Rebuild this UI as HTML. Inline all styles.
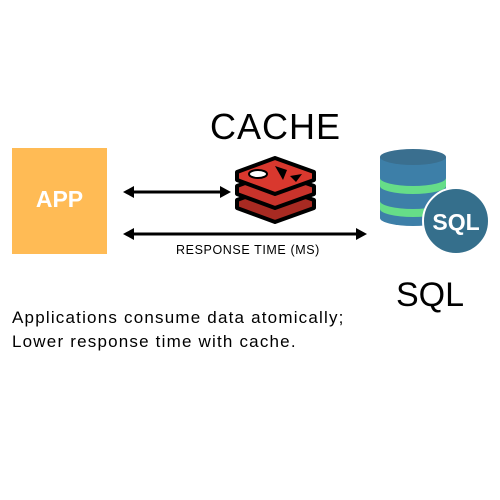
<!DOCTYPE html>
<html><head><style>
body{margin:0;width:500px;height:500px;background:#fff;position:relative;overflow:hidden;font-family:"Liberation Sans",sans-serif}
.t{position:absolute;color:#000;white-space:nowrap}
</style></head><body>
<div style="position:absolute;left:12px;top:148px;width:95px;height:106px;background:#ffbb55"></div>
<div class="t" style="left:12px;top:186px;width:95px;text-align:center;color:#fff;font-weight:bold;font-size:23px">APP</div>
<div class="t" style="left:210px;top:106px;font-size:36px;letter-spacing:1px">CACHE</div>
<div class="t" style="left:396px;top:276px;font-size:34px">SQL</div>
<div class="t" style="left:176px;top:243px;font-size:12.5px;letter-spacing:0.6px">RESPONSE TIME (MS)</div>
<div class="t" style="left:12px;top:306px;font-size:17px;line-height:24px;letter-spacing:1.2px">Applications consume data atomically;<br>Lower response time with cache.</div>
<svg width="500" height="500" style="position:absolute;left:0;top:0">
<g stroke="#000" stroke-width="3" fill="#000">
<line x1="130" y1="192" x2="224" y2="192"/>
<line x1="130" y1="234" x2="360" y2="234"/>
</g>
<g fill="#000">
<polygon points="123,192 134,186 134,198"/>
<polygon points="231,192 220,186 220,198"/>
<polygon points="123,234 134,228 134,240"/>
<polygon points="367,234 356,228 356,240"/>
</g>
<g stroke="#000" stroke-width="4" stroke-linejoin="round">
<polygon points="237,200 275,186 314,200 314,208 275,222 237,208" fill="#a82a22"/>
<polygon points="237,186 275,172 314,186 314,194 275,208 237,194" fill="#c9332b"/>
<polygon points="237,172 275,158 314,172 314,180 275,194 237,180" fill="#d9382e"/>
</g>
<ellipse cx="258" cy="174" rx="9" ry="4" fill="#fff" stroke="#000" stroke-width="2"/>
<polygon points="275,166 287,170 283,180" fill="#000"/>
<polygon points="290,176 302,174 296,182" fill="#000"/>
<path d="M380,157 L446,157 L446,218 A33,8 0 0 1 380,218 Z" fill="#3d7fa8"/>
<ellipse cx="413" cy="157" rx="33" ry="8" fill="#3a6f8f"/>
<path d="M380,178 A33,8 0 0 0 446,178 L446,186 A33,8 0 0 1 380,186 Z" fill="#66dd88"/>
<path d="M380,201 A33,8 0 0 0 446,201 L446,209 A33,8 0 0 1 380,209 Z" fill="#66dd88"/>
<circle cx="456" cy="221" r="33" fill="#356f8c" stroke="#fff" stroke-width="2"/>
<text x="456" y="230" text-anchor="middle" font-family="Liberation Sans" font-weight="bold" font-size="23" fill="#fff">SQL</text>
</svg>
</body></html>
